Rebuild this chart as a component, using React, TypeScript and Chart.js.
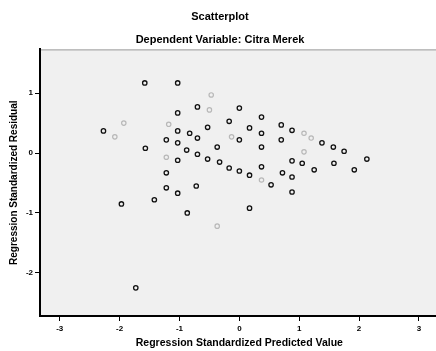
import React, { useEffect, useRef } from "react";
import { Chart, registerables } from "chart.js";

Chart.register(...registerables);

const chartTitle = "Scatterplot";
const chartSubtitle = "Dependent Variable: Citra Merek";
const xAxisTitle = "Regression Standardized Predicted Value";
const yAxisTitle = "Regression Standardized Residual";

const xTicks = [-3, -2, -1, 0, 1, 2, 3];
const yTicks = [-2, -1, 0, 1];

// main (dark) points: predicted value, residual
const darkX = [-1.58, -1.03, -0.70, 0.00, -1.03, 0.37, -0.17, 0.70, -0.53, 0.17, 0.88, -2.27, -1.03, -0.83, 0.37, -0.70, -1.22, 0.00, 0.70, -1.03, 1.38, -0.37, 0.37, -1.57, 1.57, -0.88, 1.75, -0.70, -0.53, -1.03, -0.33, 2.13, 0.88, 1.05, 1.58, 0.37, -0.17, 0.00, 1.25, 1.92, -1.22, 0.72, 0.17, 0.88, 0.53, -0.72, -1.22, 0.88, -1.03, -1.42, -1.97, 0.17, -0.87, -1.73];
const darkY = [1.17, 1.17, 0.77, 0.75, 0.67, 0.60, 0.53, 0.47, 0.43, 0.42, 0.38, 0.37, 0.37, 0.33, 0.33, 0.25, 0.22, 0.22, 0.22, 0.17, 0.17, 0.10, 0.10, 0.08, 0.10, 0.05, 0.03, -0.02, -0.10, -0.12, -0.15, -0.10, -0.13, -0.17, -0.17, -0.23, -0.25, -0.30, -0.28, -0.28, -0.33, -0.33, -0.37, -0.40, -0.53, -0.55, -0.58, -0.65, -0.67, -0.78, -0.85, -0.92, -1.00, -2.25];

// faint points
const lightX = [-0.47, -0.50, -1.93, -1.18, 1.08, -0.13, -2.08, 1.20, 1.08, -1.22, 0.37, -0.37];
const lightY = [0.97, 0.72, 0.50, 0.48, 0.33, 0.27, 0.27, 0.25, 0.02, -0.07, -0.45, -1.22];

const X_MIN = -3.33;
const X_MAX = 3.33;
const Y_MIN = -2.72;
const Y_MAX = 1.73;

const FONT = "'Liberation Sans', Arial, sans-serif";

const plotBg = {
  id: "plotBg",
  beforeDraw(chart: any) {
    const { ctx, chartArea } = chart;
    ctx.save();
    ctx.fillStyle = "#f0f0f0";
    ctx.fillRect(chartArea.left, chartArea.top, chartArea.right - chartArea.left, chartArea.bottom - chartArea.top);
    ctx.strokeStyle = "#9a9a9a";
    ctx.lineWidth = 1;
    ctx.beginPath();
    ctx.moveTo(chartArea.left, chartArea.top + 0.5);
    ctx.lineTo(chartArea.right, chartArea.top + 0.5);
    ctx.stroke();
    ctx.restore();
  },
};

export default function App() {
  const ref = useRef<HTMLCanvasElement | null>(null);

  useEffect(() => {
    if (!ref.current) return;
    const chart = new Chart(ref.current, {
      type: "scatter",
      data: {
        datasets: [
          {
            label: "light",
            data: lightX.map((x, i) => ({ x, y: lightY[i] })),
            pointStyle: "circle",
            pointRadius: 2.2,
            pointBorderWidth: 1.2,
            pointBorderColor: "#b8b8b8",
            pointBackgroundColor: "rgba(0,0,0,0)",
          },
          {
            label: "dark",
            data: darkX.map((x, i) => ({ x, y: darkY[i] })),
            pointStyle: "circle",
            pointRadius: 2.2,
            pointBorderWidth: 1.3,
            pointBorderColor: "#111111",
            pointBackgroundColor: "rgba(0,0,0,0)",
          },
        ],
      },
      options: {
        responsive: false,
        animation: false,
        layout: { padding: { left: 0, right: 4, top: 0, bottom: 0 } },
        plugins: {
          legend: { display: false },
          tooltip: { enabled: false },
          title: {
            display: true,
            text: chartTitle,
            color: "#000",
            font: { family: FONT, size: 11, weight: "bold" },
            padding: { top: 10, bottom: 5 },
          },
          subtitle: {
            display: true,
            text: chartSubtitle,
            color: "#000",
            font: { family: FONT, size: 11, weight: "bold" },
            padding: { top: 5, bottom: 3 },
          },
        },
        scales: {
          x: {
            type: "linear",
            min: X_MIN,
            max: X_MAX,
            afterBuildTicks: (s: any) => {
              s.ticks = xTicks.map((v) => ({ value: v }));
            },
            afterFit: (s: any) => {
              s.height = 35;
            },
            ticks: {
              color: "#000",
              font: { family: FONT, size: 8, weight: "bold" },
              padding: 3,
              maxRotation: 0,
              autoSkip: false,
              callback: (v: any) => String(v),
            },
            grid: { drawOnChartArea: false, tickLength: 5, color: "#000", tickWidth: 1 },
            border: { display: true, color: "#000", width: 2 },
            title: {
              display: true,
              text: xAxisTitle,
              color: "#000",
              font: { family: FONT, size: 10.5, weight: "bold" },
              padding: { top: 0, bottom: 2 },
            },
          },
          y: {
            type: "linear",
            min: Y_MIN,
            max: Y_MAX,
            afterBuildTicks: (s: any) => {
              s.ticks = yTicks.map((v) => ({ value: v }));
            },
            afterFit: (s: any) => {
              s.width = 40;
            },
            ticks: {
              color: "#000",
              font: { family: FONT, size: 8, weight: "bold" },
              padding: 2,
              autoSkip: false,
              callback: (v: any) => String(v),
            },
            grid: { drawOnChartArea: false, tickLength: 5, color: "#000", tickWidth: 1 },
            border: { display: true, color: "#000", width: 2 },
            title: {
              display: true,
              text: yAxisTitle,
              color: "#000",
              font: { family: FONT, size: 10, weight: "bold" },
              padding: { top: 8, bottom: 0 },
            },
          },
        },
      },
      plugins: [plotBg],
    } as any);
    return () => chart.destroy();
  }, []);

  return (
    <div style={{ position: "absolute", left: 0, top: 0, width: 436, height: 351, overflow: "hidden", background: "#fff" }}>
      <canvas ref={ref} width={444} height={351} style={{ display: "block" }} />
    </div>
  );
}
